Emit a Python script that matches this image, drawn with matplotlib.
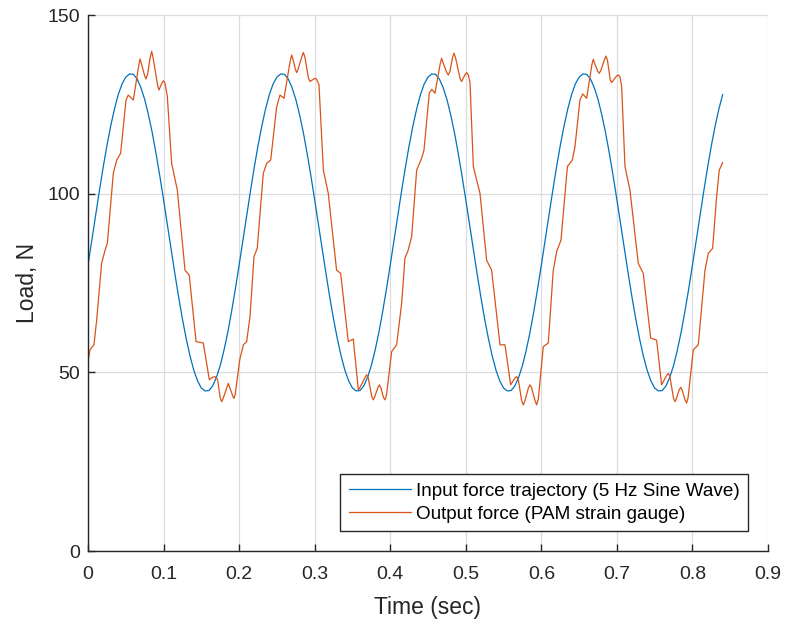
import matplotlib
matplotlib.use("Agg")
import matplotlib.pyplot as plt

# ---- data ----
blue_t_step = 0.005
blue_load = [
    80.0, 86.9, 93.9, 100.7, 107.3, 113.4, 118.9, 123.7, 127.7, 130.7,
    132.6, 133.5, 133.4, 132.1, 129.7, 126.4, 122.1, 117.1, 111.3, 105.0,
    98.3, 91.4, 84.4, 77.6, 71.0, 64.9, 59.4, 54.6, 50.6, 47.6,
    45.6, 44.8, 44.9, 46.2, 48.6, 51.9, 56.2, 61.2, 67.0, 73.3,
    80.0, 86.9, 93.9, 100.7, 107.3, 113.4, 118.9, 123.7, 127.7, 130.7,
    132.6, 133.5, 133.4, 132.1, 129.7, 126.4, 122.1, 117.1, 111.3, 105.0,
    98.3, 91.4, 84.4, 77.6, 71.0, 64.9, 59.4, 54.6, 50.6, 47.6,
    45.6, 44.8, 44.9, 46.2, 48.6, 51.9, 56.2, 61.2, 67.0, 73.3,
    80.0, 86.9, 93.9, 100.7, 107.3, 113.4, 118.9, 123.7, 127.7, 130.7,
    132.6, 133.5, 133.4, 132.1, 129.7, 126.4, 122.1, 117.1, 111.3, 105.0,
    98.3, 91.4, 84.4, 77.6, 71.0, 64.9, 59.4, 54.6, 50.6, 47.6,
    45.6, 44.8, 44.9, 46.2, 48.6, 51.9, 56.2, 61.2, 67.0, 73.3,
    80.0, 86.9, 93.9, 100.7, 107.3, 113.4, 118.9, 123.7, 127.7, 130.7,
    132.6, 133.5, 133.4, 132.1, 129.7, 126.4, 122.1, 117.1, 111.3, 105.0,
    98.3, 91.4, 84.4, 77.6, 71.0, 64.9, 59.4, 54.6, 50.6, 47.6,
    45.6, 44.8, 44.9, 46.2, 48.6, 51.9, 56.2, 61.2, 67.0, 73.3,
    80.0, 86.9, 93.9, 100.7, 107.3, 113.4, 118.9, 123.7, 127.7,
]
blue_time = [round(i * blue_t_step, 4) for i in range(len(blue_load))]

# (time, load) samples of the strain-gauge output
orange_points = [
    (0.0, 53.0), (0.0026, 56.3), (0.0079, 57.7), (0.0115, 64.7), (0.018, 80.5),
    (0.0225, 84.1), (0.0256, 86.1), (0.0335, 105.7), (0.038, 109.4), (0.0432, 111.3),
    (0.0503, 126.2), (0.0532, 127.6), (0.060, 126.2), (0.0665, 135.0), (0.0688, 137.7),
    (0.0712, 136.0), (0.0750, 133.0), (0.0768, 132.1), (0.0790, 133.5), (0.0822, 138.0),
    (0.0843, 139.8), (0.0862, 138.0), (0.0920, 130.5), (0.094, 129.0), (0.0975, 130.8),
    (0.0997, 131.6), (0.1018, 131.0), (0.105, 127.2), (0.1107, 108.5), (0.1182, 101.0),
    (0.1284, 78.6), (0.134, 77.2), (0.143, 58.6), (0.1526, 58.2), (0.1606, 47.9),
    (0.1645, 48.6), (0.168, 48.8), (0.1715, 48.0), (0.175, 42.8), (0.177, 41.8),
    (0.179, 42.8), (0.1838, 45.8), (0.1857, 46.9), (0.1876, 45.8), (0.1915, 43.4),
    (0.1932, 42.7), (0.1950, 44.0), (0.2008, 53.5),
    (0.2056, 57.7), (0.21, 58.6), (0.2144, 65.6), (0.2197, 82.4), (0.224, 84.7),
    (0.232, 105.7), (0.2365, 108.5), (0.2418, 109.4), (0.2497, 124.3), (0.2541, 127.6),
    (0.2594, 126.7), (0.2675, 137.0), (0.2696, 138.8), (0.2717, 137.3), (0.2745, 134.8),
    (0.2762, 133.9), (0.2780, 134.8), (0.2830, 138.3), (0.285, 139.5), (0.2870, 138.3),
    (0.2918, 132.3), (0.2938, 131.4), (0.2982, 132.0), (0.3004, 132.3), (0.3025, 132.0),
    (0.3057, 130.5), (0.3115, 106.6), (0.318, 100.1), (0.329, 78.6), (0.3344, 77.7),
    (0.3445, 58.6), (0.3511, 59.3), (0.3578, 45.1), (0.3595, 45.6), (0.3668, 48.6),
    (0.3688, 49.3), (0.3708, 48.6), (0.3756, 43.2), (0.3776, 42.3), (0.3796, 43.2),
    (0.3836, 45.7), (0.3856, 46.5), (0.3876, 45.7), (0.3910, 43.0), (0.393, 42.3),
    (0.3950, 43.5), (0.4019, 55.8),
    (0.4085, 57.7), (0.4151, 69.3), (0.4195, 82.0), (0.4235, 84.0), (0.4284, 88.0),
    (0.435, 106.6), (0.4416, 109.9), (0.4447, 112.2), (0.4517, 128.1), (0.455, 129.2),
    (0.4592, 128.1), (0.4660, 136.2), (0.468, 137.9), (0.4700, 136.6), (0.4750, 133.8),
    (0.4769, 133.2), (0.4790, 134.2), (0.4825, 138.1), (0.4844, 139.3), (0.4865, 138.0),
    (0.4925, 132.2), (0.4945, 131.4), (0.4990, 133.3), (0.5012, 133.9), (0.5035, 133.2),
    (0.5056, 131.0), (0.51, 107.6), (0.5188, 100.1), (0.5276, 81.4), (0.5342, 78.6),
    (0.5453, 57.7), (0.5519, 57.7), (0.5594, 46.5), (0.5650, 48.4), (0.5673, 48.8),
    (0.5695, 48.0), (0.5740, 42.0), (0.5761, 40.9), (0.5782, 42.0), (0.5830, 45.7),
    (0.585, 46.5), (0.5870, 45.7), (0.5918, 42.0), (0.5938, 40.9), (0.5960, 42.5),
    (0.6026, 57.2),
    (0.6092, 58.2), (0.6158, 78.6), (0.6203, 83.8), (0.626, 87.0), (0.6345, 107.6),
    (0.641, 109.4), (0.6445, 113.1), (0.6511, 126.2), (0.6547, 127.9), (0.66, 126.7),
    (0.6668, 136.0), (0.6688, 137.6), (0.6708, 136.3), (0.6748, 134.2), (0.6767, 133.7),
    (0.6788, 134.5), (0.6835, 137.5), (0.6855, 138.5), (0.6875, 137.4), (0.6912, 131.8),
    (0.693, 131.1), (0.6995, 132.9), (0.7019, 133.2), (0.7042, 132.6), (0.7063, 130.0),
    (0.7107, 107.6), (0.7173, 101.0), (0.7283, 80.5), (0.7349, 77.7), (0.7447, 59.6),
    (0.7526, 59.0), (0.7592, 46.5), (0.7660, 49.2), (0.768, 49.7), (0.7700, 49.0),
    (0.7750, 42.7), (0.7769, 41.8), (0.7788, 42.7), (0.7825, 45.1), (0.7844, 45.8),
    (0.7863, 45.1), (0.7903, 42.2), (0.7923, 41.4), (0.7943, 43.0), (0.8011, 56.3),
    (0.8077, 57.7), (0.8166, 78.6), (0.821, 83.3), (0.8267, 84.7), (0.832, 99.2),
    (0.8355, 106.6), (0.84, 108.7),
]
orange_time = [p[0] for p in orange_points]
orange_load = [p[1] for p in orange_points]

series_labels = ["Input force trajectory (5 Hz Sine Wave)",
                 "Output force (PAM strain gauge)"]
x_ticks = [0, 0.1, 0.2, 0.3, 0.4, 0.5, 0.6, 0.7, 0.8, 0.9]
x_tick_labels = ["0", "0.1", "0.2", "0.3", "0.4", "0.5", "0.6", "0.7", "0.8", "0.9"]
y_ticks = [0, 50, 100, 150]

# ---- figure ----
plt.rcParams['font.family'] = ['Liberation Sans', 'DejaVu Sans']
fig = plt.figure(figsize=(7.86, 6.22), dpi=100)
ax = fig.add_axes([88 / 786, 71 / 622, 680 / 786, 536 / 622])

ax.plot(blue_time, blue_load, color="#0072BD", lw=0.9, label=series_labels[0])
ax.plot(orange_time, orange_load, color="#D95319", lw=0.9, label=series_labels[1])

ax.set_xlim(0, 0.9)
ax.set_ylim(0, 150)
ax.set_xticks(x_ticks)
ax.set_xticklabels(x_tick_labels)
ax.set_yticks(y_ticks)

ax.grid(True, color="#dcdcdc", lw=0.9)
ax.set_axisbelow(True)
for s in ["top", "right"]:
    ax.spines[s].set_visible(False)
for s in ["left", "bottom"]:
    ax.spines[s].set_color("#262626")
    ax.spines[s].set_linewidth(1.0)
ax.tick_params(direction="in", length=5, width=1.0, color="#262626",
               labelsize=14, labelcolor="#262626")
ax.tick_params(axis="x", pad=11)
ax.tick_params(axis="y", pad=6)

ax.set_xlabel("Time (sec)", fontsize=16.5, color="#262626", labelpad=9)
ax.set_ylabel("Load, N", fontsize=16.5, color="#262626", labelpad=6)

leg = ax.legend(loc="lower right", bbox_to_anchor=(0.971, 0.037), fontsize=13.6,
                frameon=True, fancybox=False, framealpha=1.0,
                edgecolor="#262626", handlelength=3.3, handletextpad=0.25,
                borderpad=0.45, labelspacing=0.3, borderaxespad=0.0)
leg.get_frame().set_linewidth(1.0)

fig.savefig("out.png", dpi=100)
